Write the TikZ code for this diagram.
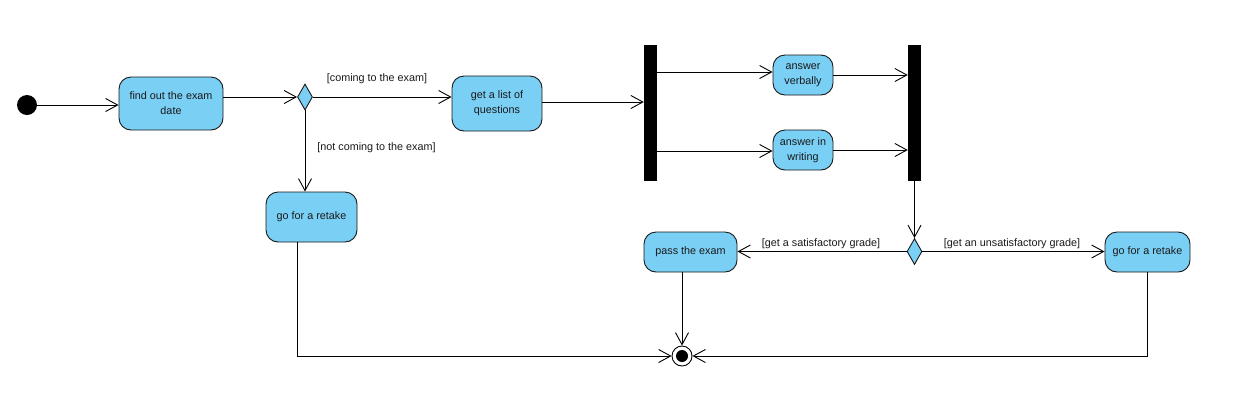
\documentclass[tikz,border=0pt]{standalone}
\usepackage{fontspec}
\setmainfont{Liberation Sans}
\usetikzlibrary{arrows.meta,shapes.geometric,calc}
\definecolor{actblue}{HTML}{7ACFF5}
\definecolor{txt}{HTML}{1A1A1A}
\begin{document}
\begin{tikzpicture}[x=1pt,y=-1pt,
  act/.style={draw=black!90, fill=actblue, rounded corners=12pt, line width=0.9pt, align=center, inner sep=0pt, font=\fontsize{10.8}{15}\selectfont, text=txt},
  dec/.style={diamond, draw=black!90, fill=actblue, inner sep=0pt, minimum width=15pt, minimum height=26pt, line width=0.9pt},
  syncbar/.style={fill=black, draw=none, minimum width=13pt, minimum height=136pt, inner sep=0pt},
  flow/.style={line width=0.9pt, -{Straight Barb[length=12pt,width=13pt]}},
  guard/.style={font=\fontsize{10.8}{13}\selectfont, inner sep=0pt, text=txt},
]
\useasboundingbox (0,0) rectangle (1241,400);
\fill[white] (0,0) rectangle (1241,400);

% nodes
\node[circle, fill=black, minimum size=20pt, inner sep=0pt] (start) at (27,105) {};
\node[act, minimum width=104pt, minimum height=53pt] (find) at (171,103.5) {find out the exam\\date};
\node[dec] (d1) at (305,97) {};
\node[act, minimum width=90pt, minimum height=55pt] (list) at (497,103.5) {get a list of\\questions};
\node[syncbar] (fork) at (650.5,113) {};
\node[act, minimum width=60pt, minimum height=40pt] (verb) at (803,75) {answer\\verbally};
\node[act, minimum width=60pt, minimum height=40pt] (writ) at (803,150) {answer in\\writing};
\node[syncbar] (join) at (914.5,113) {};
\node[dec] (d2) at (914.5,251.5) {};
\node[act, minimum width=93pt, minimum height=40pt] (pass) at (690.5,252) {pass the exam};
\node[act, minimum width=85pt, minimum height=40pt] (retB) at (1147.5,252) {go for a retake};
\node[act, minimum width=91pt, minimum height=50pt] (retA) at (311.5,217) {go for a retake};
\node[circle, draw=black, fill=white, line width=0.9pt, minimum size=20pt, inner sep=0pt] (final) at (682,356) {};
\node[circle, fill=black, minimum size=12pt, inner sep=0pt] (finaldot) at (final) {};

% guards
\node[guard] (g1) at (377,79) {[coming to the exam]};
\node[guard] (g2) at (376.5,148) {[not coming to the exam]};
\node[guard] (g3) at (821,244) {[get a satisfactory grade]};
\node[guard] (g4) at (1012,244) {[get an unsatisfactory grade]};

% attachment points
\coordinate (lo) at ([yshift=1.5pt]list.east);
\coordinate (vi) at ([yshift=3pt]verb.west);
\coordinate (wi) at ([yshift=-1pt]writ.west);

% connectors
\draw[flow] (start) -- (find.west |- start);
\draw[flow] (find.east |- d1) -- (d1.west);
\draw[flow] (d1.east) -- (list.west |- d1);
\draw[flow] (d1.south) -- (retA.north -| d1);
\draw[flow] (lo) -- (fork.west |- lo);
\draw[flow] (fork.east |- vi) -- (vi);
\draw[flow] (fork.east |- wi) -- (wi);
\draw[flow] (verb.east) -- (join.west |- verb);
\draw[flow] (writ.east) -- (join.west |- writ);
\draw[flow] (join.south -| d2) -- (d2.north);
\draw[flow] (d2.west) -- (pass.east |- d2);
\draw[flow] (d2.east) -- (retB.west |- d2);
\draw[flow] (pass.south -| final) -- (final.north);
\draw[flow] ([xshift=-14.5pt]retA.south) |- (final.west);
\draw[flow] (retB.south) |- (final.east);
\end{tikzpicture}
\end{document}
